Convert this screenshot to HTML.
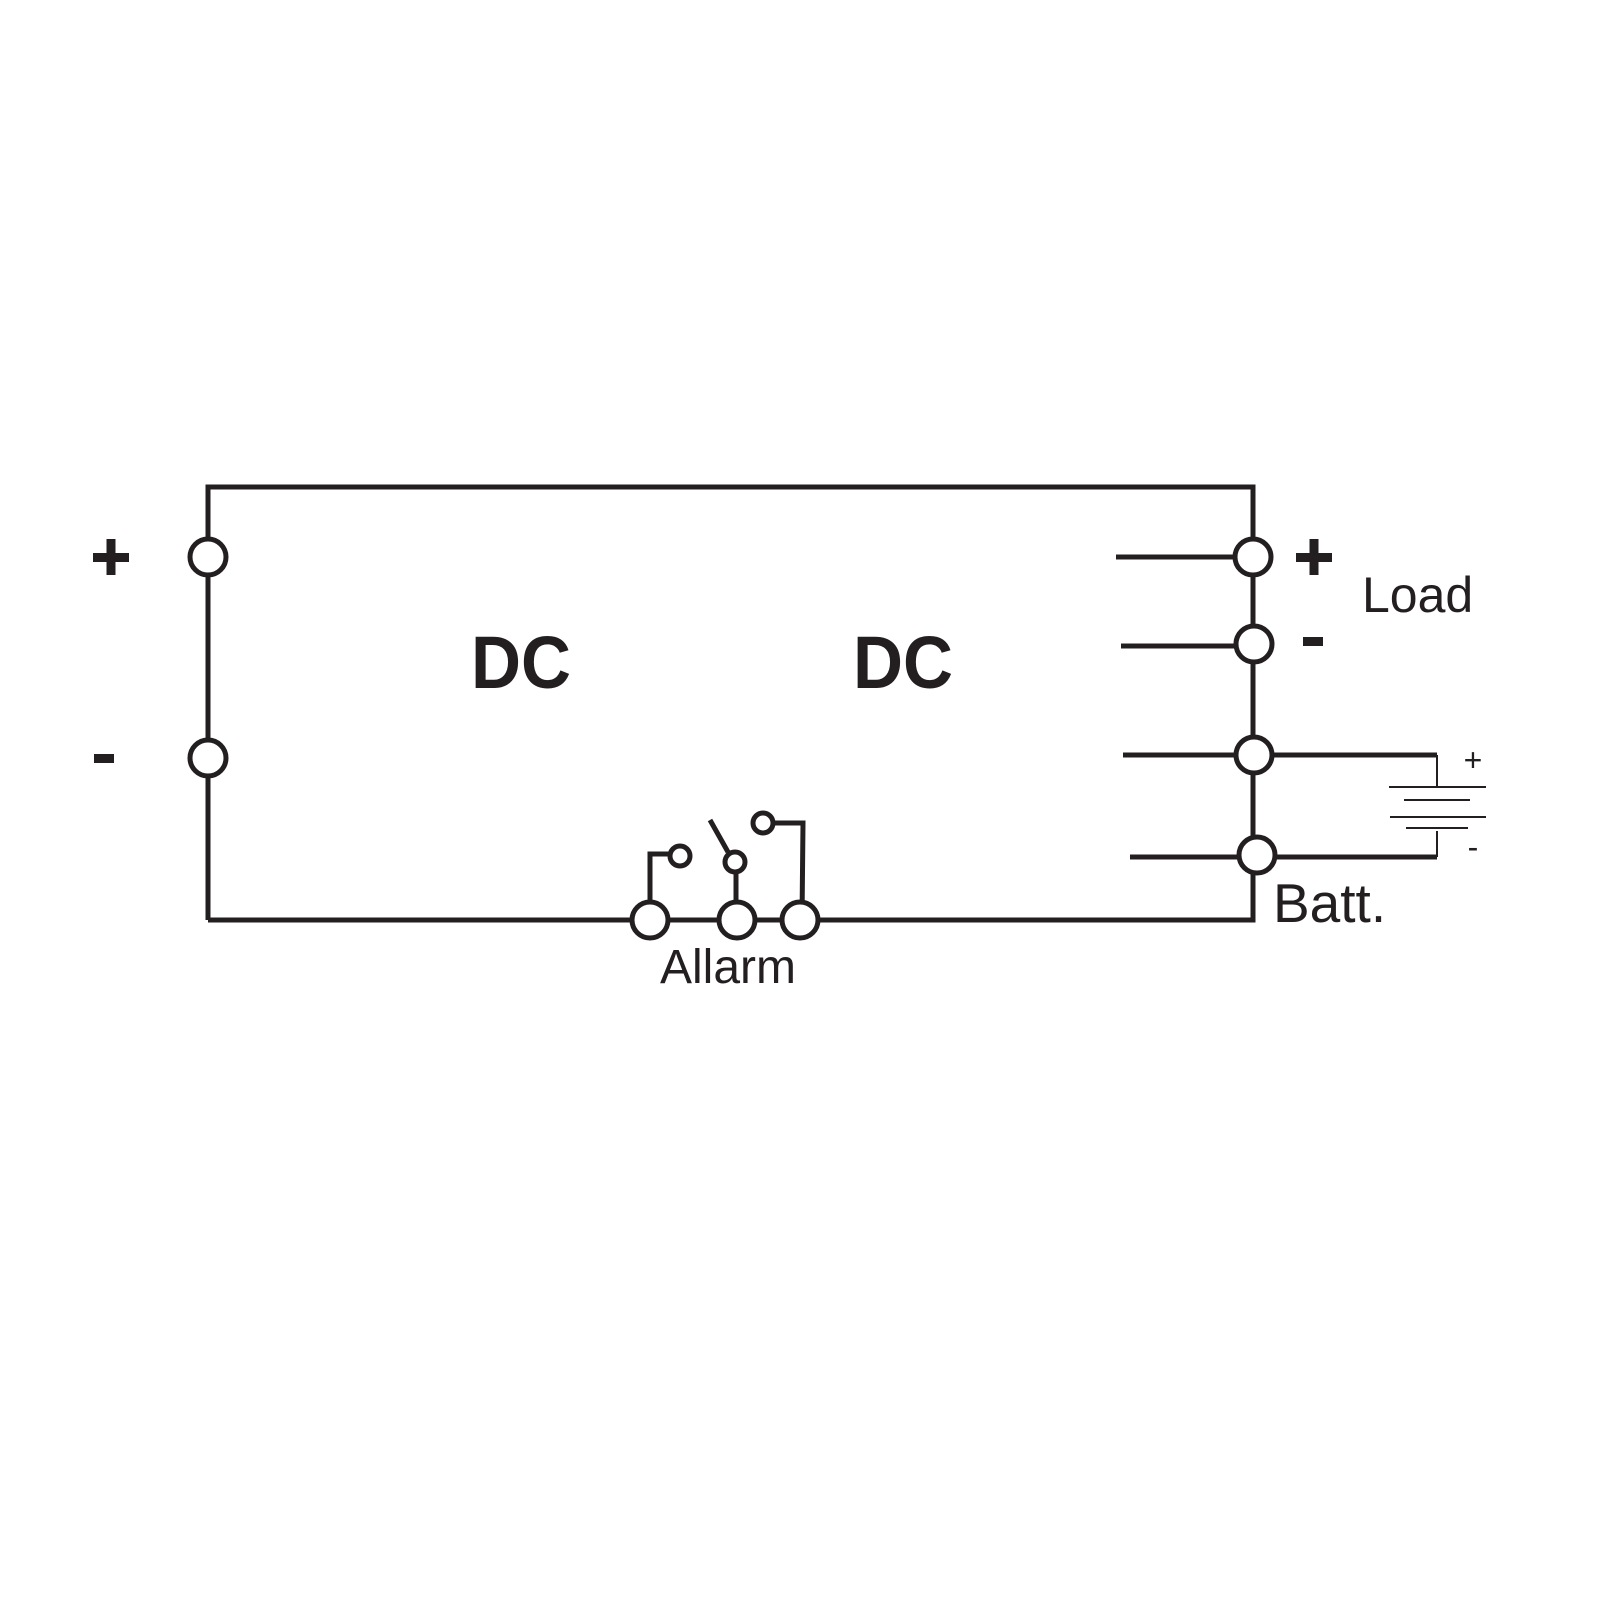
<!DOCTYPE html>
<html><head><meta charset="utf-8"><style>html,body{margin:0;padding:0;background:#fff}svg{display:block}</style></head>
<body>
<svg width="1600" height="1600" viewBox="0 0 1600 1600" xmlns="http://www.w3.org/2000/svg">
<g stroke="#231f20" stroke-width="5" fill="none">
<polyline points="208,920 208,487 1253,487 1253,920 208,920"/>
<line x1="1116" y1="557" x2="1253" y2="557"/>
<line x1="1121" y1="646" x2="1253" y2="646"/>
<line x1="1123" y1="755" x2="1437" y2="755"/>
<line x1="1130" y1="857" x2="1437" y2="857"/>
<line x1="1437" y1="755" x2="1437" y2="787" stroke-width="2"/>
<line x1="1437" y1="831" x2="1437" y2="857" stroke-width="2"/>
<line x1="1389" y1="787" x2="1486" y2="787" stroke-width="2"/>
<line x1="1404" y1="800" x2="1470" y2="800" stroke-width="2"/>
<line x1="1390" y1="817" x2="1486" y2="817" stroke-width="2"/>
<line x1="1406" y1="828" x2="1468" y2="828" stroke-width="2"/>
<polyline points="650,920 650,854 669,854"/>
<line x1="710" y1="820" x2="728" y2="852"/>
<line x1="736" y1="862" x2="736" y2="920"/>
<polyline points="774,823 803,823 802,920"/>
</g>
<g stroke="#231f20" stroke-width="5" fill="#fff">
<circle cx="208" cy="557" r="18"/>
<circle cx="208" cy="758" r="18"/>
<circle cx="1253" cy="557" r="18"/>
<circle cx="1254" cy="644" r="18"/>
<circle cx="1254" cy="755" r="18"/>
<circle cx="1257" cy="855" r="18"/>
<circle cx="650" cy="920" r="18"/>
<circle cx="737" cy="920" r="18"/>
<circle cx="800" cy="920" r="18"/>
<circle cx="680" cy="856" r="10"/>
<circle cx="735" cy="862" r="10"/>
<circle cx="763" cy="823" r="10"/>
</g>
<g fill="#231f20">
<rect x="93" y="553" width="36" height="9"/><rect x="106.5" y="539" width="9" height="36"/>
<rect x="94" y="754" width="20" height="9"/>
<rect x="1296" y="553" width="36" height="9"/><rect x="1309.5" y="539" width="9" height="36"/>
<rect x="1303" y="637" width="20" height="9"/>
</g>
<g font-family="Liberation Sans, Arial, sans-serif" fill="#231f20">
<text x="471" y="688" font-size="74" font-weight="bold" textLength="100" lengthAdjust="spacingAndGlyphs">DC</text>
<text x="853" y="688" font-size="74" font-weight="bold" textLength="100" lengthAdjust="spacingAndGlyphs">DC</text>
<text x="1362" y="612" font-size="50">Load</text>
<text x="1273" y="922" font-size="55">Batt.</text>
<text x="660" y="983" font-size="48">Allarm</text>
<text x="1473" y="771" font-size="32" text-anchor="middle">+</text>
<text x="1473" y="858" font-size="32" text-anchor="middle">-</text>
</g>
</svg>
</body></html>
